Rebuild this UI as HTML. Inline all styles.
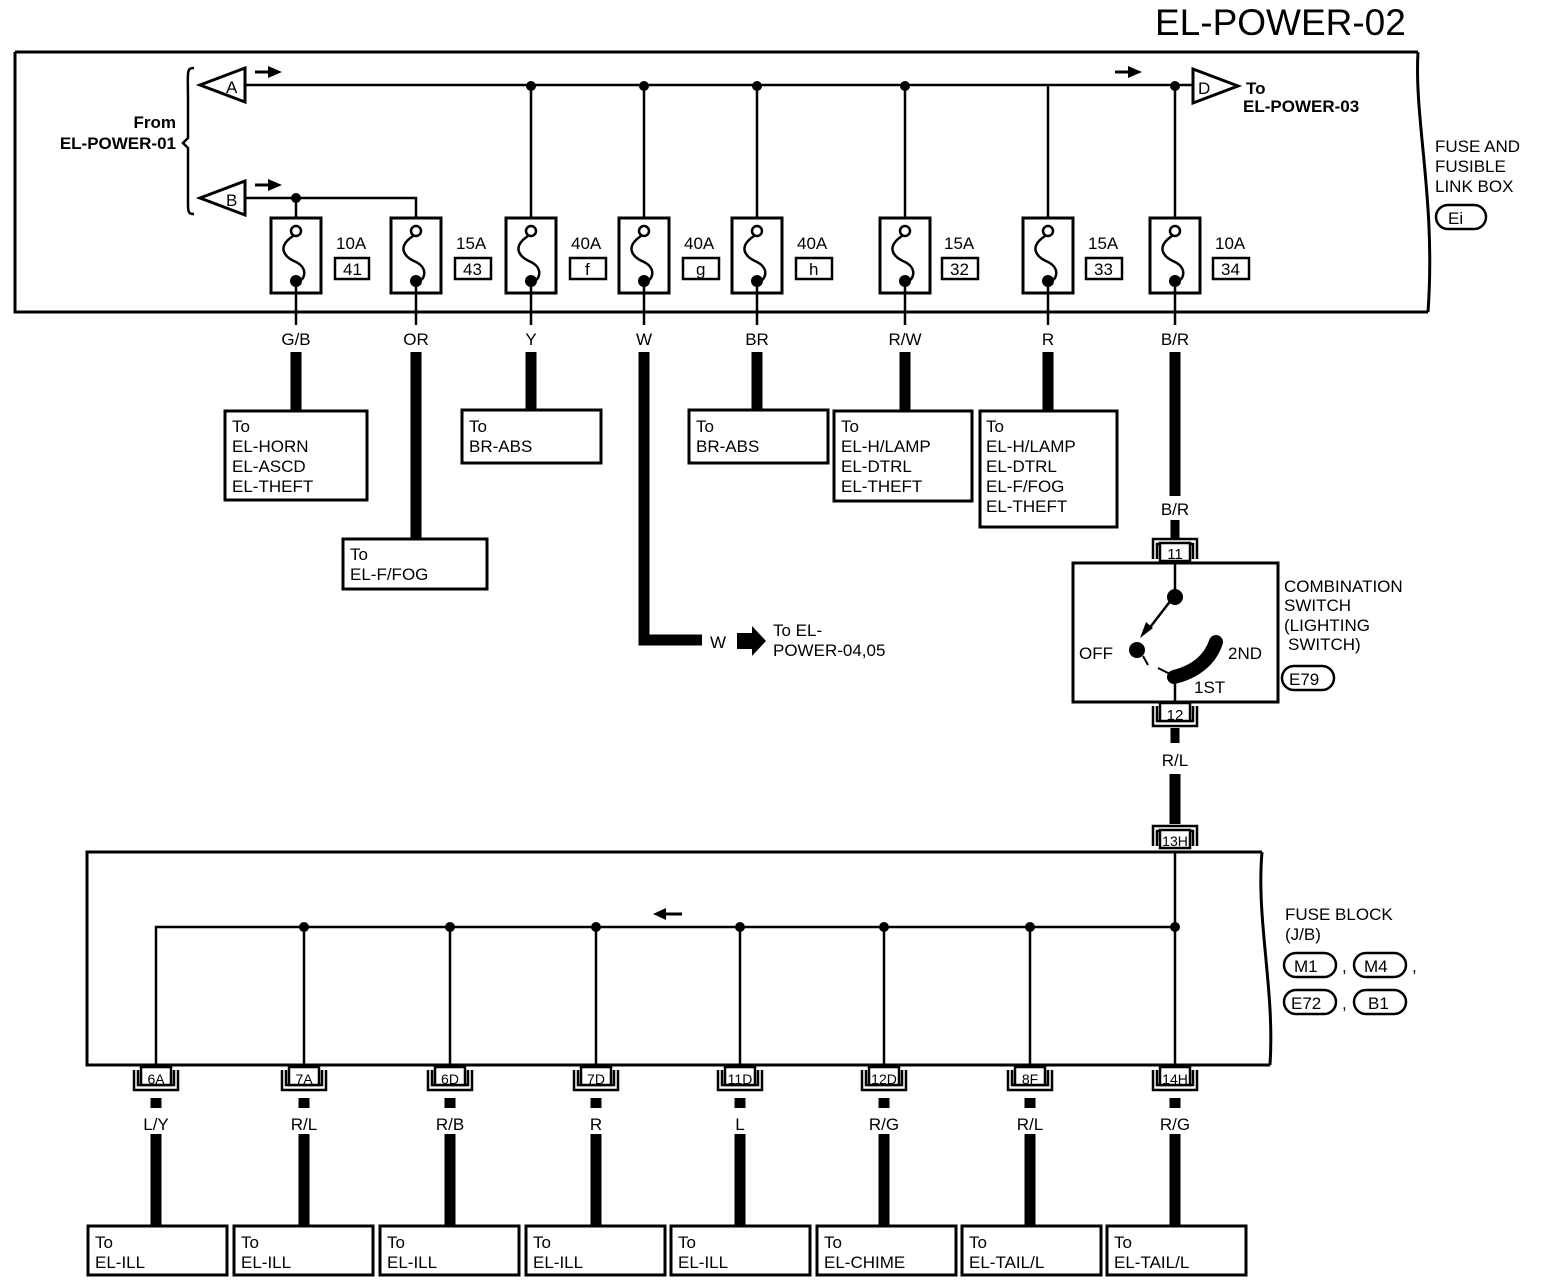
<!DOCTYPE html>
<html><head><style>body{margin:0;background:#fff}svg{display:block}text{font-family:"Liberation Sans",sans-serif;fill:#000}</style></head><body>
<svg width="1552" height="1286" viewBox="0 0 1552 1286" xmlns="http://www.w3.org/2000/svg">
<defs>
<g id="fuse"><rect x="-25" y="0" width="50" height="75" fill="#fff" stroke="#000" stroke-width="3"/><circle cx="0" cy="13" r="5" fill="#fff" stroke="#000" stroke-width="2.5"/><path d="M-3 18 C-18 28,-14 38,0 44 C12 50,10 62,0 65" fill="none" stroke="#000" stroke-width="2.5"/><circle cx="0" cy="63" r="6"/></g>
<g id="conB"><path d="M-22 0 V20 H22 V0 M-18 0 V15 H18 V0" fill="none" stroke="#000" stroke-width="2.5"/><rect x="-15" y="-3" width="30" height="18" fill="#fff" stroke="#000" stroke-width="2.5"/></g>
<g id="conT"><path d="M-22 24 V4 H22 V24 M-18 24 V9 H18 V24" fill="none" stroke="#000" stroke-width="2.5"/><rect x="-15" y="8" width="30" height="18" fill="#fff" stroke="#000" stroke-width="2.5"/></g>
</defs>
<text x="1155" y="35" font-size="37">EL-POWER-02</text>
<path d="M15 52 H1418 M15 52 V312 H1428 M1418 52 C1414 120,1436 200,1428 312" fill="none" stroke="#000" stroke-width="3"/>
<path d="M194 68 C186 68,188 72,188 100 V138 L183 143 L188 148 V205 C188 214,190 214,194 214" fill="none" stroke="#000" stroke-width="2.5"/>
<text x="176" y="128" font-size="17" font-weight="bold" text-anchor="end">From</text>
<text x="176" y="149" font-size="17" font-weight="bold" text-anchor="end">EL-POWER-01</text>
<polygon points="200,85 245,68 245,102" fill="#fff" stroke="#000" stroke-width="3"/><text x="226" y="93" font-size="17">A</text>
<polygon points="200,198 245,181 245,215" fill="#fff" stroke="#000" stroke-width="3"/><text x="226" y="206" font-size="17">B</text>
<path d="M255 72 H270 M255 185 H270" stroke="#000" stroke-width="3"/><polygon points="268,66 282,72 268,78"/><polygon points="268,179 282,185 268,191"/>
<path d="M1115 72 H1130" stroke="#000" stroke-width="3"/><polygon points="1128,66 1142,72 1128,78"/>
<polygon points="1238,86 1193,69 1193,103" fill="#fff" stroke="#000" stroke-width="3"/><text x="1198" y="94" font-size="17">D</text>
<text x="1246" y="94" font-size="17" font-weight="bold">To</text><text x="1243" y="112" font-size="17" font-weight="bold">EL-POWER-03</text>
<path d="M245 85 H1193 M245 198 H416 V220 M296 198 V220" fill="none" stroke="#000" stroke-width="2.5"/>
<g stroke="#000" stroke-width="2.5"><path d="M531 86 V220 M644 86 V220 M757 86 V220 M905 86 V220 M1048 86 V220 M1175 86 V220"/></g>
<g><circle cx="296" cy="198" r="5"/><circle cx="531" cy="86" r="5"/><circle cx="644" cy="86" r="5"/><circle cx="757" cy="86" r="5"/><circle cx="905" cy="86" r="5"/><circle cx="1175" cy="86" r="5"/></g>
<text x="1435" y="152" font-size="17">FUSE AND</text><text x="1435" y="172" font-size="17">FUSIBLE</text><text x="1435" y="192" font-size="17">LINK BOX</text>
<rect x="1436" y="205" width="50" height="24" rx="12" fill="#fff" stroke="#000" stroke-width="2.5"/><text x="1448" y="224" font-size="17">Ei</text>
<g>
<use href="#fuse" x="296" y="218"/><use href="#fuse" x="416" y="218"/><use href="#fuse" x="531" y="218"/><use href="#fuse" x="644" y="218"/><use href="#fuse" x="757" y="218"/><use href="#fuse" x="905" y="218"/><use href="#fuse" x="1048" y="218"/><use href="#fuse" x="1175" y="218"/>
</g>
<g font-size="17">
<text x="336" y="249">10A</text><rect x="335" y="258" width="34" height="21" fill="none" stroke="#000" stroke-width="2.5"/><text x="343" y="275">41</text>
<text x="456" y="249">15A</text><rect x="455" y="258" width="36" height="21" fill="none" stroke="#000" stroke-width="2.5"/><text x="463" y="275">43</text>
<text x="571" y="249">40A</text><rect x="570" y="258" width="36" height="21" fill="none" stroke="#000" stroke-width="2.5"/><text x="585" y="275">f</text>
<text x="684" y="249">40A</text><rect x="683" y="258" width="36" height="21" fill="none" stroke="#000" stroke-width="2.5"/><text x="696" y="275">g</text>
<text x="797" y="249">40A</text><rect x="796" y="258" width="36" height="21" fill="none" stroke="#000" stroke-width="2.5"/><text x="809" y="275">h</text>
<text x="944" y="249">15A</text><rect x="942" y="258" width="36" height="21" fill="none" stroke="#000" stroke-width="2.5"/><text x="950" y="275">32</text>
<text x="1088" y="249">15A</text><rect x="1086" y="258" width="36" height="21" fill="none" stroke="#000" stroke-width="2.5"/><text x="1094" y="275">33</text>
<text x="1215" y="249">10A</text><rect x="1213" y="258" width="36" height="21" fill="none" stroke="#000" stroke-width="2.5"/><text x="1221" y="275">34</text>
</g>
<g stroke="#000" stroke-width="2.5"><path d="M296 287 V325 M416 287 V325 M531 287 V325 M644 287 V325 M757 287 V325 M905 287 V325 M1048 287 V325 M1175 287 V325"/></g>
<g font-size="17" text-anchor="middle">
<text x="296" y="345">G/B</text><text x="416" y="345">OR</text><text x="531" y="345">Y</text><text x="644" y="345">W</text><text x="757" y="345">BR</text><text x="905" y="345">R/W</text><text x="1048" y="345">R</text><text x="1175" y="345">B/R</text>
</g>
<g stroke="#000" stroke-width="11" fill="none">
<path d="M296 352 V412 M416 352 V540 M531 352 V410 M757 352 V410 M905 352 V412 M1048 352 V412 M1175 352 V496"/>
<path d="M644 352 V640 H702"/>
</g>
<polygon points="737,633 752,633 752,626 766,641 752,656 752,649 737,649"/>
<text x="710" y="648" font-size="17">W</text>
<text x="773" y="636" font-size="17">To EL-</text><text x="773" y="656" font-size="17">POWER-04,05</text>
<g fill="#fff" stroke="#000" stroke-width="3">
<rect x="225" y="411" width="142" height="89"/><rect x="343" y="539" width="144" height="50"/><rect x="462" y="410" width="139" height="53"/><rect x="689" y="410" width="139" height="53"/><rect x="834" y="411" width="138" height="90"/><rect x="980" y="411" width="137" height="116"/>
</g>
<g font-size="17">
<text x="232" y="432">To</text><text x="232" y="452">EL-HORN</text><text x="232" y="472">EL-ASCD</text><text x="232" y="492">EL-THEFT</text>
<text x="350" y="560">To</text><text x="350" y="580">EL-F/FOG</text>
<text x="469" y="432">To</text><text x="469" y="452">BR-ABS</text>
<text x="696" y="432">To</text><text x="696" y="452">BR-ABS</text>
<text x="841" y="432">To</text><text x="841" y="452">EL-H/LAMP</text><text x="841" y="472">EL-DTRL</text><text x="841" y="492">EL-THEFT</text>
<text x="986" y="432">To</text><text x="986" y="452">EL-H/LAMP</text><text x="986" y="472">EL-DTRL</text><text x="986" y="492">EL-F/FOG</text><text x="986" y="512">EL-THEFT</text>
</g>
<text x="1175" y="515" font-size="17" text-anchor="middle">B/R</text>
<path d="M1175 520 V540" stroke="#000" stroke-width="9"/>
<use href="#conT" x="1175" y="535"/>
<rect x="1073" y="563" width="205" height="139" fill="#fff" stroke="#000" stroke-width="3"/>
<text x="1175" y="559" font-size="15" text-anchor="middle">11</text>
<path d="M1175 563 V595 L1148 630 M1175 702 V675" stroke="#000" stroke-width="2.5" fill="none"/>
<circle cx="1175" cy="597" r="8"/><polygon points="1140,638 1146,622 1153,628"/><circle cx="1137" cy="650" r="8"/>
<path d="M1174 677 C1195 672,1210 660,1216 642" stroke="#000" stroke-width="14" fill="none" stroke-linecap="round"/>
<path d="M1143 656 L1148 665 M1158 668 L1170 674" stroke="#000" stroke-width="2"/>
<text x="1079" y="659" font-size="17">OFF</text><text x="1228" y="659" font-size="17">2ND</text><text x="1194" y="693" font-size="17">1ST</text>
<use href="#conB" x="1175" y="706"/>
<text x="1175" y="720" font-size="15" text-anchor="middle">12</text>
<path d="M1175 728 V743" stroke="#000" stroke-width="9"/>
<text x="1175" y="766" font-size="17" text-anchor="middle">R/L</text>
<path d="M1175 774 V824" stroke="#000" stroke-width="11"/>
<text x="1284" y="592" font-size="17">COMBINATION</text><text x="1284" y="611" font-size="17">SWITCH</text><text x="1284" y="631" font-size="17">(LIGHTING</text><text x="1288" y="650" font-size="17">SWITCH)</text>
<rect x="1282" y="666" width="52" height="24" rx="12" fill="#fff" stroke="#000" stroke-width="2.5"/><text x="1289" y="685" font-size="17">E79</text>
<path d="M1262 852 H87 V1065 H1270 M1262 852 C1256 920,1275 990,1270 1065" fill="none" stroke="#000" stroke-width="3"/>
<use href="#conT" x="1175" y="822"/>
<text x="1175" y="846" font-size="14" text-anchor="middle">13H</text>
<path d="M1175 852 V927 H156 V1065 M304 927 V1065 M450 927 V1065 M596 927 V1065 M740 927 V1065 M884 927 V1065 M1030 927 V1065 M1175 927 V1065" fill="none" stroke="#000" stroke-width="2.5"/>
<g><circle cx="304" cy="927" r="5"/><circle cx="450" cy="927" r="5"/><circle cx="596" cy="927" r="5"/><circle cx="740" cy="927" r="5"/><circle cx="884" cy="927" r="5"/><circle cx="1030" cy="927" r="5"/><circle cx="1175" cy="927" r="5"/></g>
<path d="M665 914 H682" stroke="#000" stroke-width="3"/><polygon points="666,908 653,914 666,920"/>
<text x="1285" y="920" font-size="17">FUSE BLOCK</text><text x="1285" y="940" font-size="17">(J/B)</text>
<g fill="#fff" stroke="#000" stroke-width="2.5"><rect x="1284" y="953" width="52" height="24" rx="12"/><rect x="1354" y="953" width="52" height="24" rx="12"/><rect x="1284" y="990" width="52" height="24" rx="12"/><rect x="1354" y="990" width="52" height="24" rx="12"/></g>
<g font-size="17"><text x="1294" y="972">M1</text><text x="1342" y="972">,</text><text x="1364" y="972">M4</text><text x="1412" y="972">,</text><text x="1291" y="1009">E72</text><text x="1342" y="1009">,</text><text x="1368" y="1009">B1</text></g>
<g>
<use href="#conB" x="156" y="1070"/><use href="#conB" x="304" y="1070"/><use href="#conB" x="450" y="1070"/><use href="#conB" x="596" y="1070"/><use href="#conB" x="740" y="1070"/><use href="#conB" x="884" y="1070"/><use href="#conB" x="1030" y="1070"/><use href="#conB" x="1175" y="1070"/>
</g>
<g font-size="14" text-anchor="middle"><text x="156" y="1084">6A</text><text x="304" y="1084">7A</text><text x="450" y="1084">6D</text><text x="596" y="1084">7D</text><text x="740" y="1084">11D</text><text x="884" y="1084">12D</text><text x="1030" y="1084">8F</text><text x="1175" y="1084">14H</text></g>
<g font-size="17" text-anchor="middle"><text x="156" y="1130">L/Y</text><text x="304" y="1130">R/L</text><text x="450" y="1130">R/B</text><text x="596" y="1130">R</text><text x="740" y="1130">L</text><text x="884" y="1130">R/G</text><text x="1030" y="1130">R/L</text><text x="1175" y="1130">R/G</text></g>
<g stroke="#000" stroke-width="11"><path d="M156 1098 V1108 M156 1134 V1226 M304 1098 V1108 M304 1134 V1226 M450 1098 V1108 M450 1134 V1226 M596 1098 V1108 M596 1134 V1226 M740 1098 V1108 M740 1134 V1226 M884 1098 V1108 M884 1134 V1226 M1030 1098 V1108 M1030 1134 V1226 M1175 1098 V1108 M1175 1134 V1226"/></g>
<g fill="#fff" stroke="#000" stroke-width="3">
<rect x="88" y="1226" width="139" height="49"/><rect x="234" y="1226" width="139" height="49"/><rect x="380" y="1226" width="139" height="49"/><rect x="526" y="1226" width="139" height="49"/><rect x="671" y="1226" width="139" height="49"/><rect x="817" y="1226" width="139" height="49"/><rect x="962" y="1226" width="139" height="49"/><rect x="1107" y="1226" width="139" height="49"/>
</g>
<g font-size="17">
<text x="95" y="1248">To</text><text x="95" y="1268">EL-ILL</text>
<text x="241" y="1248">To</text><text x="241" y="1268">EL-ILL</text>
<text x="387" y="1248">To</text><text x="387" y="1268">EL-ILL</text>
<text x="533" y="1248">To</text><text x="533" y="1268">EL-ILL</text>
<text x="678" y="1248">To</text><text x="678" y="1268">EL-ILL</text>
<text x="824" y="1248">To</text><text x="824" y="1268">EL-CHIME</text>
<text x="969" y="1248">To</text><text x="969" y="1268">EL-TAIL/L</text>
<text x="1114" y="1248">To</text><text x="1114" y="1268">EL-TAIL/L</text>
</g>
</svg>
</body></html>
